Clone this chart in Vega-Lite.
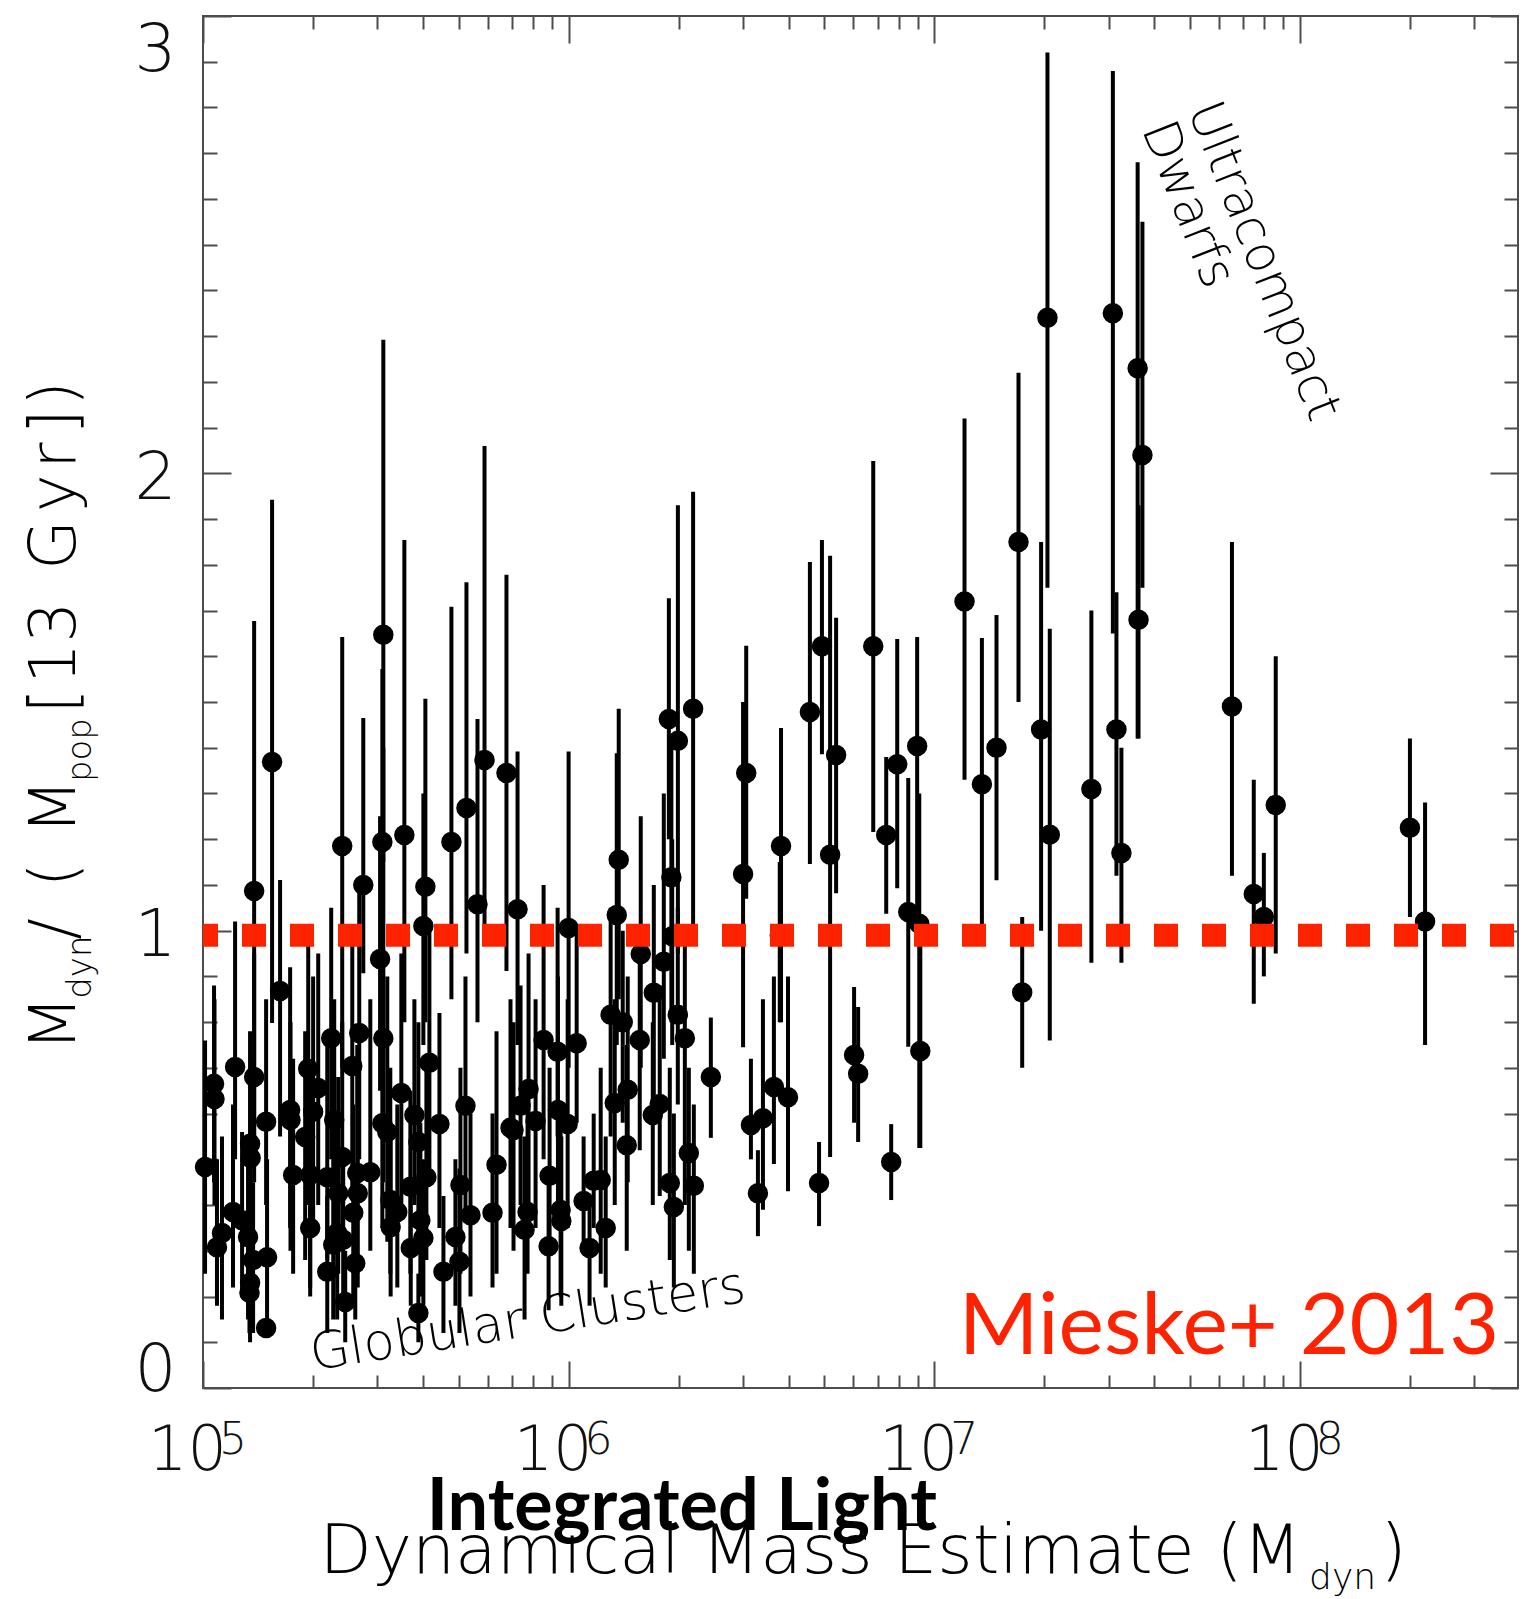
{
  "$schema": "https://vega.github.io/schema/vega-lite/v6.json",
  "width": 1315,
  "height": 1372,
  "autosize": {"type": "none"},
  "padding": {"left": 203, "top": 16, "right": 5, "bottom": 211},
  "background": "white",
  "config": {
    "view": {"stroke": "#4d4d4d", "strokeWidth": 2},
    "axis": {"domain": false, "grid": false, "tickColor": "#4d4d4d", "tickWidth": 2, "title": null},
    "text": {"font": "DejaVu Sans", "fontWeight": 200, "color": "black", "align": "left", "baseline": "alphabetic"}
  },
  "datasets": {
    "one": [{}],
    "exps": [{"m":100000,"e":"5"},{"m":1000000,"e":"6"},{"m":10000000,"e":"7"},{"m":100000000,"e":"8"}],
    "pts": [
      {"m":2.04e7,"r":2.34,"lo":1.75,"hi":2.92},
      {"m":1.96e7,"r":1.44,"lo":1.0,"hi":1.85},
      {"m":2.07e7,"r":1.21,"lo":0.76,"hi":1.66},
      {"m":1.74e7,"r":0.865,"lo":0.70,"hi":1.03},
      {"m":1.70e7,"r":1.85,"lo":1.50,"hi":2.22},
      {"m":1.21e7,"r":1.72,"lo":1.33,"hi":2.12},
      {"m":1.35e7,"r":1.32,"lo":1.01,"hi":1.64},
      {"m":1.48e7,"r":1.40,"lo":1.11,"hi":1.69},
      {"m":3.08e7,"r":2.35,"lo":1.65,"hi":2.88},
      {"m":3.60e7,"r":2.23,"lo":1.42,"hi":2.68},
      {"m":3.71e7,"r":2.04,"lo":1.75,"hi":2.55},
      {"m":3.62e7,"r":1.68,"lo":1.42,"hi":1.93},
      {"m":2.69e7,"r":1.31,"lo":0.93,"hi":1.70},
      {"m":3.15e7,"r":1.44,"lo":1.12,"hi":1.74},
      {"m":3.25e7,"r":1.17,"lo":0.93,"hi":1.40},
      {"m":6.52e7,"r":1.49,"lo":1.12,"hi":1.85},
      {"m":7.48e7,"r":1.08,"lo":0.84,"hi":1.33},
      {"m":7.97e7,"r":1.03,"lo":0.90,"hi":1.17},
      {"m":8.59e7,"r":1.275,"lo":0.95,"hi":1.60},
      {"m":2.00e8,"r":1.225,"lo":1.03,"hi":1.42},
      {"m":2.20e8,"r":1.02,"lo":0.75,"hi":1.28},
      {"m":1.88e6,"r":1.463,"lo":1.20,"hi":1.727},
      {"m":1.99e6,"r":1.415,"lo":0.95,"hi":1.93},
      {"m":2.19e6,"r":1.485,"lo":1.01,"hi":1.96},
      {"m":1.91e6,"r":1.117,"lo":0.80,"hi":1.40},
      {"m":1.92e6,"r":0.988,"lo":0.75,"hi":1.20},
      {"m":3.06e6,"r":1.345,"lo":1.07,"hi":1.623},
      {"m":3.00e6,"r":1.124,"lo":0.745,"hi":1.50},
      {"m":3.81e6,"r":1.185,"lo":0.80,"hi":1.443},
      {"m":3.78e6,"r":0.99,"lo":0.80,"hi":1.15},
      {"m":4.57e6,"r":1.478,"lo":1.146,"hi":1.806},
      {"m":4.93e6,"r":1.622,"lo":1.386,"hi":1.854},
      {"m":5.39e6,"r":1.384,"lo":1.082,"hi":1.684},
      {"m":5.19e6,"r":1.166,"lo":0.505,"hi":1.82},
      {"m":6.81e6,"r":1.622,"lo":1.216,"hi":2.027},
      {"m":7.39e6,"r":1.209,"lo":1.037,"hi":1.38},
      {"m":7.92e6,"r":1.364,"lo":1.093,"hi":1.638},
      {"m":8.98e6,"r":1.404,"lo":1.0,"hi":1.642},
      {"m":8.49e6,"r":1.041,"lo":0.746,"hi":1.334},
      {"m":9.10e6,"r":1.015,"lo":0.525,"hi":1.30},
      {"m":1.575e6,"r":0.949,"lo":0.70,"hi":1.25},
      {"m":1.821e6,"r":0.932,"lo":0.72,"hi":1.30},
      {"m":1.710e6,"r":0.864,"lo":0.62,"hi":1.10},
      {"m":1.303e6,"r":0.816,"lo":0.55,"hi":1.05},
      {"m":1.406e6,"r":0.80,"lo":0.58,"hi":1.0},
      {"m":1.989e6,"r":0.816,"lo":0.62,"hi":1.05},
      {"m":1.565e6,"r":0.761,"lo":0.52,"hi":0.95},
      {"m":2.079e6,"r":0.765,"lo":0.40,"hi":0.98},
      {"m":2.449e6,"r":0.68,"lo":0.547,"hi":0.81},
      {"m":1.451e6,"r":0.652,"lo":0.45,"hi":0.90},
      {"m":1.337e6,"r":0.623,"lo":0.40,"hi":0.85},
      {"m":1.775e6,"r":0.621,"lo":0.42,"hi":0.88},
      {"m":1.699e6,"r":0.597,"lo":0.40,"hi":0.80},
      {"m":1.442e6,"r":0.531,"lo":0.30,"hi":0.75},
      {"m":2.132e6,"r":0.514,"lo":0.30,"hi":0.70},
      {"m":1.891e6,"r":0.448,"lo":0.28,"hi":0.70},
      {"m":2.200e6,"r":0.442,"lo":0.25,"hi":0.62},
      {"m":1.940e6,"r":0.396,"lo":0.22,"hi":0.60},
      {"m":1.263e6,"r":0.35,"lo":0.22,"hi":0.55},
      {"m":1.224e6,"r":0.455,"lo":0.25,"hi":0.70},
      {"m":3.152e6,"r":0.575,"lo":0.50,"hi":0.72},
      {"m":3.400e6,"r":0.59,"lo":0.39,"hi":0.85},
      {"m":3.643e6,"r":0.658,"lo":0.49,"hi":0.90},
      {"m":3.981e6,"r":0.636,"lo":0.43,"hi":0.90},
      {"m":3.294e6,"r":0.426,"lo":0.332,"hi":0.52},
      {"m":4.841e6,"r":0.448,"lo":0.354,"hi":0.538},
      {"m":6.036e6,"r":0.728,"lo":0.58,"hi":0.877},
      {"m":6.192e6,"r":0.687,"lo":0.538,"hi":0.833},
      {"m":7.625e6,"r":0.494,"lo":0.411,"hi":0.577},
      {"m":9.16e6,"r":0.737,"lo":0.525,"hi":1.0},
      {"m":1.380e5,"r":1.087,"lo":0.50,"hi":1.677},
      {"m":1.545e5,"r":1.369,"lo":0.798,"hi":1.942},
      {"m":1.625e5,"r":0.868,"lo":0.55,"hi":1.111},
      {"m":2.403e5,"r":1.185,"lo":0.70,"hi":1.642},
      {"m":2.744e5,"r":1.10,"lo":0.907,"hi":1.465},
      {"m":3.113e5,"r":1.647,"lo":1.15,"hi":2.292},
      {"m":3.094e5,"r":1.194,"lo":0.75,"hi":1.572},
      {"m":3.05e5,"r":0.938,"lo":0.65,"hi":1.25},
      {"m":3.554e5,"r":1.209,"lo":0.80,"hi":1.854},
      {"m":4.057e5,"r":1.096,"lo":0.80,"hi":1.507},
      {"m":4.006e5,"r":1.01,"lo":0.75,"hi":1.30},
      {"m":4.780e5,"r":1.194,"lo":0.85,"hi":1.708},
      {"m":5.255e5,"r":1.268,"lo":0.95,"hi":1.762},
      {"m":5.888e5,"r":1.373,"lo":1.0,"hi":2.06},
      {"m":5.633e5,"r":1.058,"lo":0.80,"hi":1.463},
      {"m":6.761e5,"r":1.345,"lo":0.912,"hi":1.778},
      {"m":7.249e5,"r":1.047,"lo":0.75,"hi":1.392},
      {"m":1.0e6,"r":1.006,"lo":0.70,"hi":1.392},
      {"m":1.371e6,"r":1.155,"lo":0.85,"hi":1.485},
      {"m":1.354e6,"r":1.034,"lo":0.75,"hi":1.388},
      {"m":1.072e5,"r":0.665,"lo":0.45,"hi":0.88},
      {"m":1.075e5,"r":0.632,"lo":0.40,"hi":0.85},
      {"m":1.224e5,"r":0.702,"lo":0.50,"hi":1.02},
      {"m":1.380e5,"r":0.68,"lo":0.45,"hi":0.95},
      {"m":1.488e5,"r":0.582,"lo":0.40,"hi":0.85},
      {"m":1.013e5,"r":0.483,"lo":0.25,"hi":0.76},
      {"m":1.345e5,"r":0.534,"lo":0.35,"hi":0.78},
      {"m":1.350e5,"r":0.503,"lo":0.30,"hi":0.72},
      {"m":1.208e5,"r":0.385,"lo":0.22,"hi":0.62},
      {"m":1.127e5,"r":0.339,"lo":0.15,"hi":0.55},
      {"m":1.092e5,"r":0.308,"lo":0.18,"hi":0.50},
      {"m":1.279e5,"r":0.367,"lo":0.20,"hi":0.56},
      {"m":1.328e5,"r":0.33,"lo":0.15,"hi":0.52},
      {"m":1.371e5,"r":0.28,"lo":0.12,"hi":0.45},
      {"m":1.497e5,"r":0.286,"lo":0.15,"hi":0.50},
      {"m":1.345e5,"r":0.23,"lo":0.10,"hi":0.40},
      {"m":1.340e5,"r":0.208,"lo":0.12,"hi":0.38},
      {"m":1.488e5,"r":0.131,"lo":0.125,"hi":0.137},
      {"m":1.731e5,"r":0.608,"lo":0.35,"hi":0.92},
      {"m":1.735e5,"r":0.586,"lo":0.30,"hi":0.80},
      {"m":1.940e5,"r":0.698,"lo":0.40,"hi":1.00},
      {"m":2.066e5,"r":0.656,"lo":0.40,"hi":0.95},
      {"m":2.001e5,"r":0.604,"lo":0.35,"hi":0.90},
      {"m":1.903e5,"r":0.549,"lo":0.28,"hi":0.78},
      {"m":2.242e5,"r":0.765,"lo":0.50,"hi":1.05},
      {"m":2.675e5,"r":0.776,"lo":0.50,"hi":1.10},
      {"m":3.113e5,"r":0.765,"lo":0.45,"hi":1.40},
      {"m":2.560e5,"r":0.704,"lo":0.42,"hi":0.98},
      {"m":2.285e5,"r":0.586,"lo":0.35,"hi":0.85},
      {"m":1.764e5,"r":0.466,"lo":0.25,"hi":0.72},
      {"m":1.964e5,"r":0.466,"lo":0.22,"hi":0.70},
      {"m":2.187e5,"r":0.461,"lo":0.28,"hi":0.75},
      {"m":2.403e5,"r":0.505,"lo":0.30,"hi":0.80},
      {"m":2.343e5,"r":0.426,"lo":0.25,"hi":0.68},
      {"m":2.642e5,"r":0.47,"lo":0.25,"hi":0.75},
      {"m":2.868e5,"r":0.472,"lo":0.30,"hi":0.85},
      {"m":2.650e5,"r":0.426,"lo":0.22,"hi":0.70},
      {"m":2.576e5,"r":0.383,"lo":0.20,"hi":0.62},
      {"m":1.964e5,"r":0.35,"lo":0.20,"hi":0.58},
      {"m":2.328e5,"r":0.339,"lo":0.15,"hi":0.58},
      {"m":2.271e5,"r":0.313,"lo":0.15,"hi":0.55},
      {"m":2.418e5,"r":0.324,"lo":0.18,"hi":0.52},
      {"m":2.609e5,"r":0.273,"lo":0.15,"hi":0.45},
      {"m":2.187e5,"r":0.254,"lo":0.12,"hi":0.42},
      {"m":2.449e5,"r":0.188,"lo":0.10,"hi":0.30},
      {"m":3.094e5,"r":0.579,"lo":0.35,"hi":0.85},
      {"m":3.192e5,"r":0.56,"lo":0.32,"hi":0.90},
      {"m":3.253e5,"r":0.411,"lo":0.25,"hi":0.70},
      {"m":3.400e5,"r":0.385,"lo":0.22,"hi":0.62},
      {"m":3.260e5,"r":0.352,"lo":0.20,"hi":0.55},
      {"m":3.487e5,"r":0.645,"lo":0.40,"hi":0.95},
      {"m":3.786e5,"r":0.597,"lo":0.40,"hi":0.85},
      {"m":3.882e5,"r":0.538,"lo":0.30,"hi":0.80},
      {"m":3.691e5,"r":0.44,"lo":0.25,"hi":0.65},
      {"m":4.083e5,"r":0.461,"lo":0.28,"hi":0.70},
      {"m":3.931e5,"r":0.367,"lo":0.20,"hi":0.58},
      {"m":4.006e5,"r":0.328,"lo":0.18,"hi":0.50},
      {"m":3.700e5,"r":0.306,"lo":0.18,"hi":0.45},
      {"m":4.161e5,"r":0.711,"lo":0.48,"hi":1.00},
      {"m":4.433e5,"r":0.577,"lo":0.35,"hi":0.82},
      {"m":5.222e5,"r":0.617,"lo":0.38,"hi":0.90},
      {"m":5.060e5,"r":0.444,"lo":0.25,"hi":0.70},
      {"m":5.390e5,"r":0.378,"lo":0.20,"hi":0.60},
      {"m":4.902e5,"r":0.33,"lo":0.18,"hi":0.50},
      {"m":5.028e5,"r":0.276,"lo":0.12,"hi":0.48},
      {"m":4.546e5,"r":0.254,"lo":0.12,"hi":0.42},
      {"m":3.882e5,"r":0.164,"lo":0.10,"hi":0.25},
      {"m":6.350e5,"r":0.488,"lo":0.25,"hi":0.78},
      {"m":6.192e5,"r":0.383,"lo":0.22,"hi":0.60},
      {"m":6.935e5,"r":0.569,"lo":0.35,"hi":0.85},
      {"m":8.542e5,"r":0.761,"lo":0.50,"hi":1.10},
      {"m":9.330e5,"r":0.735,"lo":0.55,"hi":1.05},
      {"m":1.052e6,"r":0.754,"lo":0.58,"hi":1.00},
      {"m":7.770e5,"r":0.654,"lo":0.40,"hi":0.95},
      {"m":7.388e5,"r":0.617,"lo":0.40,"hi":0.88},
      {"m":8.121e5,"r":0.584,"lo":0.35,"hi":0.85},
      {"m":7.068e5,"r":0.564,"lo":0.30,"hi":0.80},
      {"m":9.350e5,"r":0.608,"lo":0.40,"hi":0.90},
      {"m":9.94e5,"r":0.577,"lo":0.35,"hi":0.85},
      {"m":8.871e5,"r":0.464,"lo":0.30,"hi":0.70},
      {"m":1.171e6,"r":0.453,"lo":0.35,"hi":0.60},
      {"m":1.099e6,"r":0.409,"lo":0.30,"hi":0.55},
      {"m":7.721e5,"r":0.385,"lo":0.25,"hi":0.60},
      {"m":7.577e5,"r":0.346,"lo":0.15,"hi":0.55},
      {"m":9.508e5,"r":0.389,"lo":0.20,"hi":0.60},
      {"m":9.550e5,"r":0.365,"lo":0.18,"hi":0.55},
      {"m":8.815e5,"r":0.31,"lo":0.17,"hi":0.45},
      {"m":1.141e6,"r":0.306,"lo":0.18,"hi":0.40}
    ]
  },
  "resolve": {"axis": {"x": "independent", "y": "independent"}},
  "layer": [
    {
      "data": {"name": "pts"},
      "mark": {"type": "rule", "color": "black", "strokeWidth": 4},
      "encoding": {
        "x": {"field": "m", "type": "quantitative",
              "scale": {"type": "log", "domain": [100000, 395000000], "nice": false},
              "axis": {"orient": "bottom", "values": [100000, 1000000, 10000000, 100000000], "ticks": false, "labelFlush": false,
                       "labelExpr": "'10'", "labelOffset": -16,
                       "labelFont": "DejaVu Sans", "labelFontWeight": 200, "labelFontSize": 62, "labelColor": "#111", "labelPadding": 32}},
        "y": {"field": "lo", "type": "quantitative",
              "scale": {"domain": [0, 3], "nice": false, "zero": false},
              "axis": {"orient": "left", "values": [0, 1, 2, 3], "ticks": false, "labelFlush": true,
                       "labelOffset": {"condition": [{"test": "datum.value == 3", "value": 2}, {"test": "datum.value == 0", "value": 16}], "value": 5},
                       "labelFont": "DejaVu Sans", "labelFontWeight": 200, "labelFontSize": 66, "labelColor": "#111", "labelPadding": 27}},
        "y2": {"field": "hi"}
      }
    },
    {
      "data": {"name": "pts"},
      "mark": {"type": "circle", "color": "black", "opacity": 1, "size": 420},
      "encoding": {
        "x": {"field": "m", "type": "quantitative",
              "axis": {"orient": "bottom", "values": [100000, 1000000, 10000000, 100000000], "labels": false, "tickSize": -27}},
        "y": {"field": "r", "type": "quantitative",
              "axis": {"orient": "left", "values": [0, 1, 2, 3], "labels": false, "tickSize": -28}}
      }
    },
    {
      "data": {"name": "one"},
      "mark": {"type": "rule", "color": "#ff2200", "strokeWidth": 23, "strokeDash": [24, 24], "strokeDashOffset": -4},
      "encoding": {
        "y": {"datum": 0.99, "type": "quantitative",
              "axis": {"orient": "left", "values": [0.1,0.2,0.3,0.4,0.5,0.6,0.7,0.8,0.9,1.1,1.2,1.3,1.4,1.5,1.6,1.7,1.8,1.9,2.1,2.2,2.3,2.4,2.5,2.6,2.7,2.8,2.9], "labels": false, "tickSize": -14}}
      }
    },
    {
      "data": {"name": "one"},
      "mark": {"type": "text", "text": "Mieske+ 2013", "align": "right", "font": "Lato", "fontWeight": "normal", "fontSize": 86, "color": "#ff2200"},
      "encoding": {
        "x": {"datum": 351000000, "type": "quantitative",
              "axis": {"orient": "bottom", "values": [200000,300000,400000,500000,600000,700000,800000,900000,2000000,3000000,4000000,5000000,6000000,7000000,8000000,9000000,20000000,30000000,40000000,50000000,60000000,70000000,80000000,90000000,200000000,300000000], "labels": false, "tickSize": -13}},
        "y": {"datum": 0.074, "type": "quantitative",
              "axis": {"orient": "right", "values": [0, 1, 2, 3], "labels": false, "tickSize": -28}}
      }
    },
    {
      "data": {"name": "one"},
      "mark": {"type": "text", "text": "Globular  Clusters", "fontSize": 51, "angle": 351},
      "encoding": {
        "x": {"datum": 200000, "type": "quantitative",
              "axis": {"orient": "top", "values": [100000, 1000000, 10000000, 100000000], "labels": false, "tickSize": -27}},
        "y": {"datum": 0.039, "type": "quantitative",
              "axis": {"orient": "right", "values": [0.1,0.2,0.3,0.4,0.5,0.6,0.7,0.8,0.9,1.1,1.2,1.3,1.4,1.5,1.6,1.7,1.8,1.9,2.1,2.2,2.3,2.4,2.5,2.6,2.7,2.8,2.9], "labels": false, "tickSize": -14}}
      }
    },
    {
      "data": {"name": "one"},
      "mark": {"type": "text", "text": "Ultracompact", "fontSize": 50, "angle": 68.5},
      "encoding": {
        "x": {"datum": 49300000, "type": "quantitative",
              "axis": {"orient": "top", "values": [200000,300000,400000,500000,600000,700000,800000,900000,2000000,3000000,4000000,5000000,6000000,7000000,8000000,9000000,20000000,30000000,40000000,50000000,60000000,70000000,80000000,90000000,200000000,300000000], "labels": false, "tickSize": -13}},
        "y": {"datum": 2.795, "type": "quantitative", "axis": null}
      }
    },
    {
      "data": {"name": "one"},
      "mark": {"type": "text", "text": "Dwarfs", "fontSize": 50, "angle": 68.5},
      "encoding": {
        "x": {"datum": 36900000, "type": "quantitative", "axis": null},
        "y": {"datum": 2.753, "type": "quantitative", "axis": null}
      }
    },
    {
      "data": {"name": "exps"},
      "mark": {"type": "text", "fontSize": 44, "dx": 16, "color": "#111"},
      "encoding": {
        "x": {"field": "m", "type": "quantitative", "axis": null},
        "y": {"datum": -0.144, "type": "quantitative", "axis": null},
        "text": {"field": "e"}
      }
    },
    {
      "data": {"name": "one"},
      "mark": {"type": "text", "text": "Dynamical   Mass   Estimate   (M", "align": "right", "fontSize": 68},
      "encoding": {
        "x": {"datum": 101000000, "type": "quantitative", "axis": null},
        "y": {"datum": -0.405, "type": "quantitative", "axis": null}
      }
    },
    {
      "data": {"name": "one"},
      "mark": {"type": "text", "text": "dyn", "fontSize": 36},
      "encoding": {
        "x": {"datum": 106000000, "type": "quantitative", "axis": null},
        "y": {"datum": -0.44, "type": "quantitative", "axis": null}
      }
    },
    {
      "data": {"name": "one"},
      "mark": {"type": "text", "text": ")", "fontSize": 68},
      "encoding": {
        "x": {"datum": 166000000, "type": "quantitative", "axis": null},
        "y": {"datum": -0.405, "type": "quantitative", "axis": null}
      }
    },
    {
      "data": {"name": "one"},
      "mark": {"type": "text", "text": "Integrated Light", "align": "center", "font": "Lato", "fontWeight": "bold", "fontSize": 72},
      "encoding": {
        "x": {"datum": 2040000, "type": "quantitative", "axis": null},
        "y": {"datum": -0.3105, "type": "quantitative", "axis": null}
      }
    },
    {
      "data": {"name": "one"},
      "mark": {"type": "text", "text": "M", "fontSize": 64, "angle": 270},
      "encoding": {"x": {"datum": 44600, "type": "quantitative", "axis": null}, "y": {"datum": 0.737, "type": "quantitative", "axis": null}}
    },
    {
      "data": {"name": "one"},
      "mark": {"type": "text", "text": "dyn", "fontSize": 34, "angle": 270},
      "encoding": {"x": {"datum": 49300, "type": "quantitative", "axis": null}, "y": {"datum": 0.851, "type": "quantitative", "axis": null}}
    },
    {
      "data": {"name": "one"},
      "mark": {"type": "text", "text": "/", "fontSize": 64, "angle": 270},
      "encoding": {"x": {"datum": 44600, "type": "quantitative", "axis": null}, "y": {"datum": 0.98, "type": "quantitative", "axis": null}}
    },
    {
      "data": {"name": "one"},
      "mark": {"type": "text", "text": "(", "fontSize": 64, "angle": 270},
      "encoding": {"x": {"datum": 44600, "type": "quantitative", "axis": null}, "y": {"datum": 1.095, "type": "quantitative", "axis": null}}
    },
    {
      "data": {"name": "one"},
      "mark": {"type": "text", "text": "M", "fontSize": 64, "angle": 270},
      "encoding": {"x": {"datum": 44600, "type": "quantitative", "axis": null}, "y": {"datum": 1.211, "type": "quantitative", "axis": null}}
    },
    {
      "data": {"name": "one"},
      "mark": {"type": "text", "text": "pop", "fontSize": 34, "angle": 270},
      "encoding": {"x": {"datum": 49300, "type": "quantitative", "axis": null}, "y": {"datum": 1.325, "type": "quantitative", "axis": null}}
    },
    {
      "data": {"name": "one"},
      "mark": {"type": "text", "text": "[", "fontSize": 64, "angle": 270},
      "encoding": {"x": {"datum": 44600, "type": "quantitative", "axis": null}, "y": {"datum": 1.475, "type": "quantitative", "axis": null}}
    },
    {
      "data": {"name": "one"},
      "mark": {"type": "text", "text": "1", "fontSize": 64, "angle": 270},
      "encoding": {"x": {"datum": 44600, "type": "quantitative", "axis": null}, "y": {"datum": 1.54, "type": "quantitative", "axis": null}}
    },
    {
      "data": {"name": "one"},
      "mark": {"type": "text", "text": "3", "fontSize": 64, "angle": 270},
      "encoding": {"x": {"datum": 44600, "type": "quantitative", "axis": null}, "y": {"datum": 1.63, "type": "quantitative", "axis": null}}
    },
    {
      "data": {"name": "one"},
      "mark": {"type": "text", "text": "G", "fontSize": 64, "angle": 270},
      "encoding": {"x": {"datum": 44600, "type": "quantitative", "axis": null}, "y": {"datum": 1.789, "type": "quantitative", "axis": null}}
    },
    {
      "data": {"name": "one"},
      "mark": {"type": "text", "text": "y", "fontSize": 64, "angle": 270},
      "encoding": {"x": {"datum": 44600, "type": "quantitative", "axis": null}, "y": {"datum": 1.915, "type": "quantitative", "axis": null}}
    },
    {
      "data": {"name": "one"},
      "mark": {"type": "text", "text": "r", "fontSize": 64, "angle": 270},
      "encoding": {"x": {"datum": 44600, "type": "quantitative", "axis": null}, "y": {"datum": 2.01, "type": "quantitative", "axis": null}}
    },
    {
      "data": {"name": "one"},
      "mark": {"type": "text", "text": "]", "fontSize": 64, "angle": 270},
      "encoding": {"x": {"datum": 44600, "type": "quantitative", "axis": null}, "y": {"datum": 2.085, "type": "quantitative", "axis": null}}
    },
    {
      "data": {"name": "one"},
      "mark": {"type": "text", "text": ")", "fontSize": 64, "angle": 270},
      "encoding": {"x": {"datum": 44600, "type": "quantitative", "axis": null}, "y": {"datum": 2.147, "type": "quantitative", "axis": null}}
    }
  ]
}
